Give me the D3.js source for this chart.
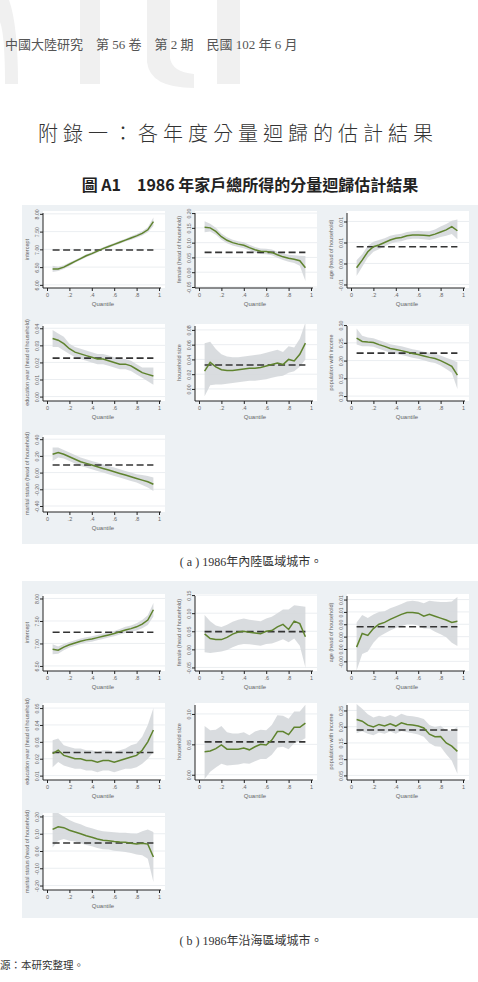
<!DOCTYPE html>
<html>
<head>
<meta charset="utf-8">
<script src="https://cdn.jsdelivr.net/npm/d3@7"></script>
<style>
  body { margin: 0; background: #fff; }
  svg { display: block; }
</style>
</head>
<body>
<div id="chart"></div>
<script>
// quantiles used by every panel
var quantiles = [0.05, 0.10, 0.15, 0.20, 0.25, 0.30, 0.35, 0.40, 0.45, 0.50, 0.55, 0.60, 0.65, 0.70, 0.75, 0.80, 0.85, 0.90, 0.95];
var xTicks = [0, 0.2, 0.4, 0.6, 0.8, 1];
var xTickLabels = ["0", ".2", ".4", ".6", ".8", "1"];

// (a) inland cities
var aInterceptCoef = [6.45, 6.45, 6.50, 6.58, 6.66, 6.74, 6.82, 6.88, 6.95, 7.02, 7.08, 7.14, 7.20, 7.26, 7.32, 7.38, 7.45, 7.55, 7.78];
var aInterceptLo   = [6.36, 6.39, 6.45, 6.53, 6.62, 6.70, 6.78, 6.84, 6.91, 6.98, 7.04, 7.10, 7.16, 7.22, 7.27, 7.33, 7.39, 7.48, 7.66];
var aInterceptHi   = [6.54, 6.51, 6.55, 6.63, 6.70, 6.78, 6.86, 6.92, 6.99, 7.06, 7.12, 7.18, 7.24, 7.30, 7.37, 7.43, 7.51, 7.62, 7.90];

var aFemaleCoef = [0.152, 0.150, 0.138, 0.120, 0.108, 0.100, 0.095, 0.091, 0.083, 0.076, 0.071, 0.070, 0.067, 0.059, 0.052, 0.047, 0.044, 0.039, 0.015];
var aFemaleLo   = [0.135, 0.138, 0.127, 0.110, 0.098, 0.090, 0.085, 0.081, 0.074, 0.067, 0.062, 0.061, 0.057, 0.049, 0.041, 0.035, 0.031, 0.022, -0.030];
var aFemaleHi   = [0.172, 0.164, 0.150, 0.131, 0.118, 0.110, 0.105, 0.101, 0.093, 0.085, 0.080, 0.079, 0.077, 0.069, 0.063, 0.059, 0.057, 0.056, 0.055];

var aAgeCoef = [-0.0010, 0.0008, 0.0028, 0.0040, 0.0044, 0.0050, 0.0056, 0.0060, 0.0062, 0.0066, 0.0068, 0.0068, 0.0067, 0.0066, 0.0070, 0.0075, 0.0080, 0.0088, 0.0078];
var aAgeLo   = [-0.0030, -0.0008, 0.0014, 0.0028, 0.0034, 0.0041, 0.0047, 0.0051, 0.0053, 0.0057, 0.0059, 0.0059, 0.0058, 0.0056, 0.0059, 0.0063, 0.0066, 0.0070, 0.0058];
var aAgeHi   = [0.0008, 0.0022, 0.0042, 0.0052, 0.0056, 0.0060, 0.0066, 0.0069, 0.0071, 0.0075, 0.0077, 0.0078, 0.0077, 0.0077, 0.0081, 0.0088, 0.0094, 0.0102, 0.0105];

var aEduCoef = [0.034, 0.033, 0.031, 0.028, 0.026, 0.025, 0.024, 0.023, 0.022, 0.022, 0.021, 0.020, 0.019, 0.019, 0.018, 0.016, 0.014, 0.013, 0.012];
var aEduLo   = [0.029, 0.029, 0.027, 0.025, 0.023, 0.022, 0.021, 0.020, 0.019, 0.019, 0.018, 0.017, 0.016, 0.016, 0.015, 0.013, 0.011, 0.009, 0.007];
var aEduHi   = [0.039, 0.037, 0.035, 0.031, 0.029, 0.028, 0.027, 0.026, 0.025, 0.025, 0.024, 0.023, 0.022, 0.022, 0.021, 0.019, 0.017, 0.017, 0.017];

var aSizeCoef = [0.024, 0.036, 0.030, 0.026, 0.025, 0.025, 0.026, 0.027, 0.028, 0.028, 0.029, 0.031, 0.033, 0.035, 0.033, 0.040, 0.038, 0.047, 0.062];
var aSizeLo   = [-0.010, 0.005, 0.006, 0.006, 0.007, 0.008, 0.009, 0.010, 0.011, 0.011, 0.012, 0.013, 0.015, 0.017, 0.018, 0.022, 0.024, 0.030, 0.040];
var aSizeHi   = [0.062, 0.064, 0.054, 0.047, 0.044, 0.043, 0.043, 0.044, 0.045, 0.046, 0.047, 0.049, 0.051, 0.053, 0.050, 0.058, 0.056, 0.068, 0.090];

var aPopCoef = [0.263, 0.254, 0.252, 0.251, 0.245, 0.240, 0.234, 0.231, 0.228, 0.224, 0.220, 0.217, 0.213, 0.209, 0.206, 0.200, 0.192, 0.184, 0.159];
var aPopLo   = [0.245, 0.240, 0.240, 0.239, 0.233, 0.228, 0.222, 0.219, 0.216, 0.212, 0.208, 0.205, 0.201, 0.196, 0.193, 0.186, 0.176, 0.166, 0.120];
var aPopHi   = [0.290, 0.270, 0.265, 0.263, 0.257, 0.252, 0.246, 0.243, 0.240, 0.236, 0.232, 0.229, 0.225, 0.222, 0.219, 0.214, 0.208, 0.202, 0.195];

var aMarCoef = [0.22, 0.24, 0.22, 0.19, 0.16, 0.13, 0.11, 0.09, 0.07, 0.05, 0.03, 0.01, -0.01, -0.03, -0.05, -0.07, -0.09, -0.11, -0.14];
var aMarLo   = [0.14, 0.18, 0.17, 0.14, 0.11, 0.08, 0.06, 0.04, 0.02, 0.00, -0.02, -0.04, -0.06, -0.08, -0.10, -0.12, -0.15, -0.18, -0.22];
var aMarHi   = [0.30, 0.30, 0.27, 0.24, 0.21, 0.18, 0.16, 0.14, 0.12, 0.10, 0.08, 0.06, 0.04, 0.02, 0.00, -0.02, -0.03, -0.04, -0.06];

// (b) coastal cities
var bInterceptCoef = [6.87, 6.85, 6.92, 6.97, 7.01, 7.05, 7.08, 7.10, 7.13, 7.16, 7.19, 7.22, 7.26, 7.30, 7.33, 7.37, 7.43, 7.52, 7.75];
var bInterceptLo   = [6.76, 6.77, 6.85, 6.91, 6.95, 6.99, 7.02, 7.04, 7.07, 7.10, 7.13, 7.16, 7.20, 7.23, 7.26, 7.29, 7.34, 7.41, 7.60];
var bInterceptHi   = [6.98, 6.93, 6.99, 7.03, 7.07, 7.11, 7.14, 7.16, 7.19, 7.22, 7.25, 7.28, 7.32, 7.37, 7.40, 7.45, 7.52, 7.63, 7.90];

var bFemaleCoef = [0.043, 0.030, 0.027, 0.027, 0.033, 0.042, 0.048, 0.050, 0.047, 0.045, 0.043, 0.050, 0.052, 0.062, 0.069, 0.055, 0.078, 0.071, 0.035];
var bFemaleLo   = [-0.008, -0.010, -0.008, -0.006, -0.002, 0.006, 0.012, 0.015, 0.014, 0.012, 0.010, 0.015, 0.016, 0.022, 0.028, 0.020, 0.030, 0.010, -0.050];
var bFemaleHi   = [0.095, 0.078, 0.066, 0.062, 0.068, 0.076, 0.082, 0.085, 0.082, 0.080, 0.078, 0.085, 0.090, 0.100, 0.110, 0.110, 0.122, 0.120, 0.118];

var bAgeCoef = [0.0003, 0.0025, 0.0022, 0.0033, 0.0040, 0.0043, 0.0048, 0.0052, 0.0056, 0.0059, 0.0059, 0.0058, 0.0053, 0.0056, 0.0053, 0.0050, 0.0047, 0.0043, 0.0045];
var bAgeLo   = [-0.0035, -0.0008, -0.0004, 0.0010, 0.0020, 0.0025, 0.0030, 0.0034, 0.0037, 0.0040, 0.0040, 0.0038, 0.0033, 0.0033, 0.0028, 0.0024, 0.0019, 0.0010, 0.0005];
var bAgeHi   = [0.0043, 0.0055, 0.0050, 0.0056, 0.0060, 0.0061, 0.0066, 0.0069, 0.0073, 0.0077, 0.0078, 0.0077, 0.0074, 0.0078, 0.0077, 0.0076, 0.0076, 0.0077, 0.0084];

var bEduCoef = [0.023, 0.025, 0.022, 0.021, 0.020, 0.020, 0.019, 0.019, 0.018, 0.019, 0.019, 0.018, 0.019, 0.020, 0.021, 0.022, 0.025, 0.030, 0.037];
var bEduLo   = [0.015, 0.018, 0.016, 0.015, 0.014, 0.014, 0.013, 0.013, 0.012, 0.013, 0.013, 0.012, 0.013, 0.014, 0.014, 0.015, 0.017, 0.020, 0.024];
var bEduHi   = [0.031, 0.032, 0.028, 0.027, 0.026, 0.026, 0.025, 0.025, 0.024, 0.025, 0.025, 0.024, 0.025, 0.026, 0.028, 0.029, 0.033, 0.040, 0.050];

var bSizeCoef = [0.038, 0.039, 0.043, 0.049, 0.042, 0.042, 0.042, 0.044, 0.041, 0.046, 0.050, 0.049, 0.057, 0.071, 0.071, 0.066, 0.078, 0.078, 0.085];
var bSizeLo   = [-0.007, 0.005, 0.012, 0.018, 0.015, 0.016, 0.017, 0.019, 0.018, 0.022, 0.026, 0.026, 0.033, 0.045, 0.046, 0.042, 0.052, 0.055, 0.060];
var bSizeHi   = [0.080, 0.073, 0.074, 0.080, 0.070, 0.068, 0.068, 0.070, 0.065, 0.071, 0.074, 0.073, 0.082, 0.098, 0.097, 0.092, 0.104, 0.104, 0.115];

var bPopCoef = [0.222, 0.217, 0.205, 0.199, 0.207, 0.202, 0.209, 0.202, 0.212, 0.207, 0.205, 0.202, 0.196, 0.177, 0.169, 0.170, 0.150, 0.140, 0.124];
var bPopLo   = [0.180, 0.186, 0.178, 0.174, 0.182, 0.178, 0.185, 0.178, 0.187, 0.183, 0.180, 0.176, 0.169, 0.150, 0.140, 0.138, 0.115, 0.095, 0.055];
var bPopHi   = [0.270, 0.255, 0.238, 0.228, 0.234, 0.230, 0.236, 0.230, 0.240, 0.234, 0.232, 0.229, 0.224, 0.205, 0.198, 0.203, 0.188, 0.188, 0.200];

var bMarCoef = [0.125, 0.140, 0.135, 0.120, 0.110, 0.100, 0.088, 0.080, 0.070, 0.062, 0.060, 0.055, 0.052, 0.050, 0.045, 0.040, 0.045, 0.040, -0.035];
var bMarLo   = [0.020, 0.060, 0.070, 0.060, 0.055, 0.045, 0.035, 0.028, 0.018, 0.010, 0.008, 0.002, -0.002, -0.006, -0.012, -0.020, -0.025, -0.045, -0.180];
var bMarHi   = [0.220, 0.220, 0.200, 0.180, 0.165, 0.155, 0.140, 0.132, 0.122, 0.114, 0.112, 0.108, 0.106, 0.106, 0.102, 0.100, 0.115, 0.125, 0.110];

// OLS estimates (dashed lines)
var aOls = [6.98, 0.067, 0.0040, 0.0225, 0.0325, 0.221, 0.09];
var bOls = [7.25, 0.049, 0.0036, 0.0237, 0.054, 0.190, 0.046];

// axis titles
var yTitles = ["intercept", "female (head of household)", "age (head of household)", "education year (head of household)", "household size", "population with income", "marital status (head of household)"];

var W = 478, H = 982;
var svg = d3.select("#chart").append("svg").attr("width", W).attr("height", H)
  .style("font-family", "'Liberation Sans', Arial, sans-serif");

svg.append("rect").attr("width", W).attr("height", H).attr("fill", "#fff");

// watermark shapes at top
var wm = svg.append("g").attr("fill", "#f0f0f0");
wm.append("path").attr("d", "M0,0 L9,0 Q18,25 18,84 L5,84 Q5,35 0,22 Z");
wm.append("rect").attr("x", 80).attr("y", 0).attr("width", 20).attr("height", 84);
wm.append("path").attr("d", "M147,0 L170,0 L170,58 Q172,72 194,74 L194,88 Q150,88 147,62 Z");
wm.append("rect").attr("x", 217).attr("y", 0).attr("width", 23).attr("height", 84);

svg.append("text").attr("x", 5).attr("y", 49)
  .style("font-family", "'Liberation Serif', 'Noto Sans CJK TC', serif")
  .attr("font-size", 13).attr("fill", "#555")
  .text("中國大陸研究　第 56 卷　第 2 期　民國 102 年 6 月");

svg.append("text").attr("x", 238).attr("y", 141).attr("text-anchor", "middle")
  .style("font-family", "'Noto Sans CJK TC', sans-serif").attr("font-weight", 300)
  .attr("font-size", 20).attr("letter-spacing", 5).attr("fill", "#333")
  .text("附錄一：各年度分量迴歸的估計結果");

svg.append("text").attr("x", 250).attr("y", 191).attr("text-anchor", "middle")
  .style("font-family", "'Noto Sans CJK TC', sans-serif").attr("font-weight", "bold")
  .attr("font-size", 16).attr("fill", "#222")
  .text("圖 A1　1986 年家戶總所得的分量迴歸估計結果");

// grey graph backgrounds
svg.append("rect").attr("x", 22).attr("y", 205).attr("width", 456).attr("height", 339).attr("fill", "#edf1f4");
svg.append("rect").attr("x", 22).attr("y", 581).attr("width", 456).attr("height", 337).attr("fill", "#edf1f4");

svg.append("text").attr("x", 251).attr("y", 566).attr("text-anchor", "middle")
  .style("font-family", "'Liberation Serif', 'Noto Sans CJK TC', serif")
  .attr("font-size", 12).attr("fill", "#333")
  .text("( a ) 1986年內陸區域城市。");
svg.append("text").attr("x", 251).attr("y", 945).attr("text-anchor", "middle")
  .style("font-family", "'Liberation Serif', 'Noto Sans CJK TC', serif")
  .attr("font-size", 12).attr("fill", "#333")
  .text("( b ) 1986年沿海區域城市。");
svg.append("text").attr("x", 0).attr("y", 969)
  .style("font-family", "'Noto Sans CJK TC', sans-serif")
  .attr("font-size", 10.5).attr("fill", "#333")
  .text("源：本研究整理。");

var panels = [
  // group a
  {coef: aInterceptCoef, lo: aInterceptLo, hi: aInterceptHi, ols: aOls[0], title: yTitles[0],
   ticks: [6.0, 6.5, 7.0, 7.5, 8.0], labels: ["6.00", "6.50", "7.00", "7.50", "8.00"], domain: [5.94, 8.08], ax: 43, ay: 288},
  {coef: aFemaleCoef, lo: aFemaleLo, hi: aFemaleHi, ols: aOls[1], title: yTitles[1],
   ticks: [-0.05, 0, 0.05, 0.10, 0.15, 0.20], labels: ["-0.05", "0.00", "0.05", "0.10", "0.15", "0.20"], domain: [-0.05, 0.207], ax: 195, ay: 288},
  {coef: aAgeCoef, lo: aAgeLo, hi: aAgeHi, ols: aOls[2], title: yTitles[2],
   ticks: [-0.005, 0, 0.005, 0.010], labels: ["-0.01", "0.00", "0.01", "0.01"], domain: [-0.0056, 0.0125], ax: 347, ay: 288},
  {coef: aEduCoef, lo: aEduLo, hi: aEduHi, ols: aOls[3], title: yTitles[3],
   ticks: [0, 0.01, 0.02, 0.03, 0.04], labels: ["0.00", "0.01", "0.02", "0.03", "0.04"], domain: [-0.002, 0.0425], ax: 43, ay: 401},
  {coef: aSizeCoef, lo: aSizeLo, hi: aSizeHi, ols: aOls[4], title: yTitles[4],
   ticks: [0, 0.02, 0.04, 0.06, 0.08], labels: ["0.00", "0.02", "0.04", "0.06", "0.08"], domain: [-0.015, 0.088], ax: 195, ay: 401},
  {coef: aPopCoef, lo: aPopLo, hi: aPopHi, ols: aOls[5], title: yTitles[5],
   ticks: [0.10, 0.15, 0.20, 0.25, 0.30], labels: ["0.10", "0.15", "0.20", "0.25", "0.30"], domain: [0.089, 0.303], ax: 347, ay: 401},
  {coef: aMarCoef, lo: aMarLo, hi: aMarHi, ols: aOls[6], title: yTitles[6],
   ticks: [-0.4, -0.2, 0, 0.2, 0.4], labels: ["-0.40", "-0.20", "0.00", "0.20", "0.40"], domain: [-0.46, 0.45], ax: 43, ay: 512},
  // group b
  {coef: bInterceptCoef, lo: bInterceptLo, hi: bInterceptHi, ols: bOls[0], title: yTitles[0],
   ticks: [6.5, 7.0, 7.5, 8.0], labels: ["6.50", "7.00", "7.50", "8.00"], domain: [6.41, 8.1], ax: 43, ay: 671},
  {coef: bFemaleCoef, lo: bFemaleLo, hi: bFemaleHi, ols: bOls[1], title: yTitles[1],
   ticks: [-0.05, 0, 0.05, 0.10, 0.15], labels: ["-0.05", "0.00", "0.05", "0.10", "0.15"], domain: [-0.057, 0.153], ax: 195, ay: 671},
  {coef: bAgeCoef, lo: bAgeLo, hi: bAgeHi, ols: bOls[2], title: yTitles[2],
   ticks: [-0.002, 0, 0.002, 0.004, 0.006, 0.008], labels: ["-0.00", "0.00", "0.00", "0.00", "0.01", "0.01"], domain: [-0.0034, 0.0089], ax: 347, ay: 671},
  {coef: bEduCoef, lo: bEduLo, hi: bEduHi, ols: bOls[3], title: yTitles[3],
   ticks: [0.01, 0.02, 0.03, 0.04, 0.05], labels: ["0.01", "0.02", "0.03", "0.04", "0.05"], domain: [0.008, 0.053], ax: 43, ay: 780},
  {coef: bSizeCoef, lo: bSizeLo, hi: bSizeHi, ols: bOls[4], title: yTitles[4],
   ticks: [0, 0.05, 0.10], labels: ["0.00", "0.05", "0.10"], domain: [-0.007, 0.118], ax: 195, ay: 780},
  {coef: bPopCoef, lo: bPopLo, hi: bPopHi, ols: bOls[5], title: yTitles[5],
   ticks: [0.05, 0.10, 0.15, 0.20, 0.25], labels: ["0.05", "0.10", "0.15", "0.20", "0.25"], domain: [0.039, 0.273], ax: 347, ay: 780},
  {coef: bMarCoef, lo: bMarLo, hi: bMarHi, ols: bOls[6], title: yTitles[6],
   ticks: [-0.2, -0.1, 0, 0.1, 0.2], labels: ["-0.20", "-0.10", "0.00", "0.10", "0.20"], domain: [-0.22, 0.22], ax: 43, ay: 890}
];

var plotW = 122, plotH = 77;

panels.forEach(function(p, i){
  var ax = p.ax, ay = p.ay;
  var x = d3.scaleLinear().domain([0, 1]).range([ax + 4, ax + 116]);
  var y = d3.scaleLinear().domain(p.domain).range([ay - 1, ay - plotH]);
  var g = svg.append("g");

  g.append("rect").attr("x", ax).attr("y", ay - plotH).attr("width", plotW).attr("height", plotH).attr("fill", "#fff");

  g.selectAll("line.grid").data(p.ticks).enter().append("line")
    .attr("x1", ax).attr("x2", ax + plotW)
    .attr("y1", function(d){ return y(d); }).attr("y2", function(d){ return y(d); })
    .attr("stroke", "#e6eaee").attr("stroke-width", 0.8);

  var clipId = "clip" + i;
  svg.append("clipPath").attr("id", clipId).append("rect")
    .attr("x", ax).attr("y", ay - plotH).attr("width", plotW).attr("height", plotH);
  var inner = g.append("g").attr("clip-path", "url(#" + clipId + ")");

  var rows = quantiles.map(function(q, k){ return {q: q, c: p.coef[k], lo: p.lo[k], hi: p.hi[k]}; });

  var area = d3.area().x(function(d){ return x(d.q); })
    .y0(function(d){ return y(d.lo); }).y1(function(d){ return y(d.hi); });
  inner.append("path").datum(rows).attr("d", area).attr("fill", "#d5d8db").attr("opacity", 0.9);

  inner.append("line")
    .attr("x1", x(quantiles[0])).attr("x2", x(quantiles[quantiles.length - 1]))
    .attr("y1", y(p.ols)).attr("y2", y(p.ols))
    .attr("stroke", "#333").attr("stroke-width", 1.6).attr("stroke-dasharray", "7,3.5");

  var line = d3.line().x(function(d){ return x(d.q); }).y(function(d){ return y(d.c); });
  inner.append("path").datum(rows).attr("d", line)
    .attr("fill", "none").attr("stroke", "#5f832e").attr("stroke-width", 1.5);

  // y axis
  var yAxis = g.append("g").attr("transform", "translate(" + ax + ",0)")
    .call(d3.axisLeft(y).tickValues(p.ticks).tickSize(3).tickFormat(function(d, k){ return p.labels[k]; }));
  yAxis.select(".domain").attr("d", "M0," + (ay - plotH + 2) + "V" + ay).attr("stroke", "#222");
  yAxis.selectAll(".tick line").attr("stroke", "#222");
  yAxis.selectAll(".tick text")
    .attr("transform", "rotate(-90)").attr("x", 0).attr("y", -4.5).attr("dy", 0)
    .attr("text-anchor", "middle").attr("font-size", 5.2).attr("fill", "#666")
    .style("font-family", "'Liberation Sans', Arial, sans-serif");

  // x axis
  var xAxis = g.append("g").attr("transform", "translate(0," + ay + ")")
    .call(d3.axisBottom(x).tickValues(xTicks).tickSize(3).tickFormat(function(d, k){ return xTickLabels[k]; }));
  xAxis.select(".domain").attr("d", "M" + ax + ",0H" + (ax + 118)).attr("stroke", "#222");
  xAxis.selectAll(".tick line").attr("stroke", "#222");
  xAxis.selectAll(".tick text").attr("y", 5).attr("font-size", 5.5).attr("fill", "#666")
    .style("font-family", "'Liberation Sans', Arial, sans-serif");

  g.append("text").attr("x", ax + 60).attr("y", ay + 18).attr("text-anchor", "middle")
    .attr("font-size", 6).attr("fill", "#666").text("Quantile");

  g.append("text").attr("transform", "translate(" + (ax - 14) + "," + (ay - plotH / 2) + ") rotate(-90)")
    .attr("text-anchor", "middle").attr("font-size", 5.5).attr("fill", "#666").text(p.title);
});
</script>
</body>
</html>
